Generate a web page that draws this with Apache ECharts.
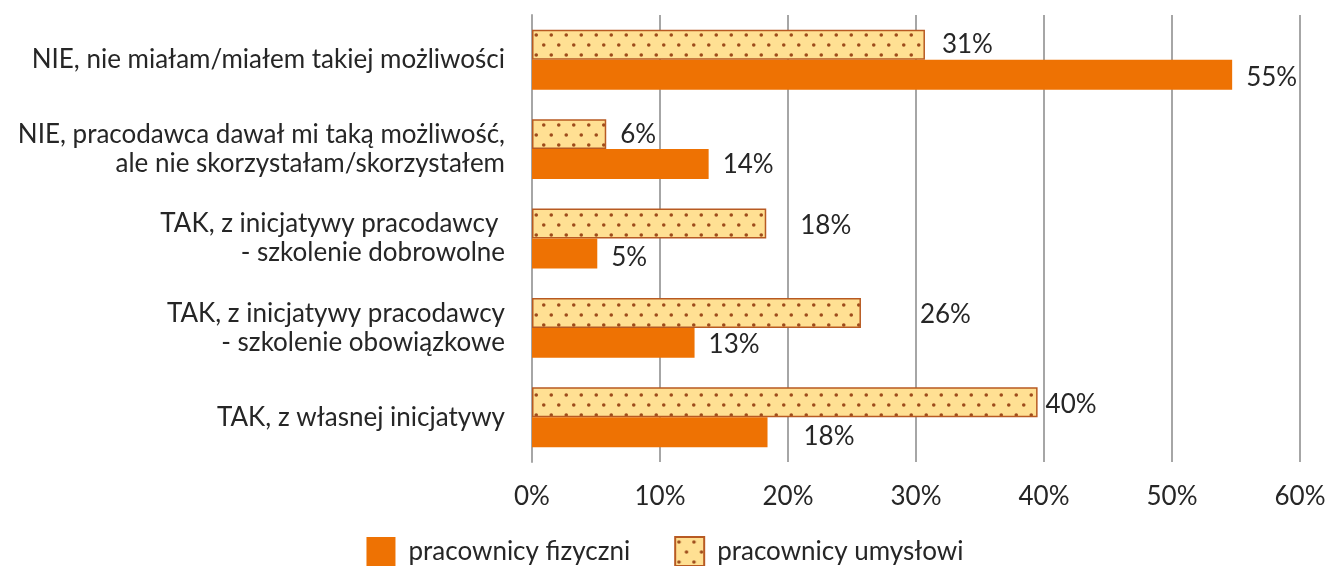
<!DOCTYPE html>
<html>
<head>
<meta charset="utf-8">
<script src="https://cdn.jsdelivr.net/npm/echarts@6/dist/echarts.min.js"></script>
<style>
  html, body { margin: 0; padding: 0; background: #fff; }
</style>
</head>
<body>
<div id="chart" style="width:1330px;height:566px"></div>
<script>
// kategorie od dołu do góry (oś kategorii rośnie w górę)
const categories = [
  'TAK, z własnej inicjatywy',
  'TAK, z inicjatywy pracodawcy\n- szkolenie obowiązkowe',
  'TAK, z inicjatywy pracodawcy \n- szkolenie dobrowolne',
  'NIE, pracodawca dawał mi taką możliwość,\nale nie skorzystałam/skorzystałem',
  'NIE, nie miałam/miałem takiej możliwości'
];
const fizyczni = [18.4, 12.7, 5.1, 13.8, 54.7];
const umyslowi = [39.5, 25.7, 18.3, 5.8, 30.7];
const xTicks = [0, 10, 20, 30, 40, 50, 60];

// przesunięcia etykiet (jak w oryginale z Excela)
const fizOffsets = [[22, 4], [0, 2], [0, 4], [0, 1], [0, 3]];
const umOffsets = [[-6, 2], [45, 2], [20, 2], [0, 0], [3, 0]];

// wzór kropkowany
function dotPattern() {
  const c = document.createElement('canvas');
  c.width = 15; c.height = 20;
  const ctx = c.getContext('2d');
  ctx.fillStyle = '#FFE093';
  ctx.fillRect(0, 0, 15, 20);
  ctx.fillStyle = '#9E4C1C';
  [[3.75, 5], [11.25, 15]].forEach(function (p) {
    ctx.beginPath();
    ctx.arc(p[0], p[1], 1.8, 0, Math.PI * 2);
    ctx.fill();
  });
  return c;
}

const font = 'Lato, "Open Sans", sans-serif';
const fs = 26;
const myChart = echarts.init(document.getElementById('chart'));

function mkData(vals, offs) {
  return vals.map(function (v, i) {
    return { value: v, label: { offset: offs[i] } };
  });
}

const pct = function (p) { return Math.round(p.value) + '%'; };

const options = {
  animation: false,
  textStyle: { fontFamily: font },
  grid: { left: 532, right: 30, top: 15, bottom: 104 },
  legend: {
    top: 531,
    left: 'center',
    icon: 'rect',
    itemWidth: 29,
    itemHeight: 29,
    itemGap: 44,
    textStyle: { fontSize: fs, color: '#262626', fontFamily: font, padding: [0, 0, 0, 8] },
    data: ['pracownicy fizyczni', 'pracownicy umysłowi']
  },
  xAxis: {
    type: 'value',
    min: xTicks[0],
    max: xTicks[xTicks.length - 1],
    interval: 10,
    axisLabel: {
      formatter: '{value}%',
      fontSize: fs,
      color: '#262626',
      margin: 22,
      fontFamily: font
    },
    axisLine: { show: false },
    axisTick: { show: false },
    splitLine: { lineStyle: { color: '#A6A6A6', width: 2 } }
  },
  yAxis: {
    type: 'category',
    data: categories,
    axisLine: { lineStyle: { color: '#A6A6A6', width: 2 } },
    axisTick: { show: false },
    axisLabel: {
      fontSize: fs,
      lineHeight: 29,
      color: '#262626',
      margin: 27,
      align: 'right',
      fontFamily: font
    }
  },
  series: [
    {
      name: 'pracownicy umysłowi',
      type: 'bar',
      data: mkData(umyslowi, umOffsets),
      barGap: '0%',
      barCategoryGap: '33%',
      itemStyle: {
        color: { image: dotPattern(), repeat: 'repeat' },
        borderColor: '#B85A22',
        borderWidth: 1.5
      },
      label: {
        show: true,
        position: 'right',
        distance: 14,
        fontSize: fs,
        color: '#262626',
        fontFamily: font,
        formatter: pct
      }
    },
    {
      name: 'pracownicy fizyczni',
      type: 'bar',
      data: mkData(fizyczni, fizOffsets),
      barGap: '0%',
      barCategoryGap: '33%',
      itemStyle: { color: '#EE7203' },
      label: {
        show: true,
        position: 'right',
        distance: 14,
        fontSize: fs,
        color: '#262626',
        fontFamily: font,
        formatter: pct
      }
    }
  ]
};
myChart.setOption(options, true);
</script>
</body>
</html>
